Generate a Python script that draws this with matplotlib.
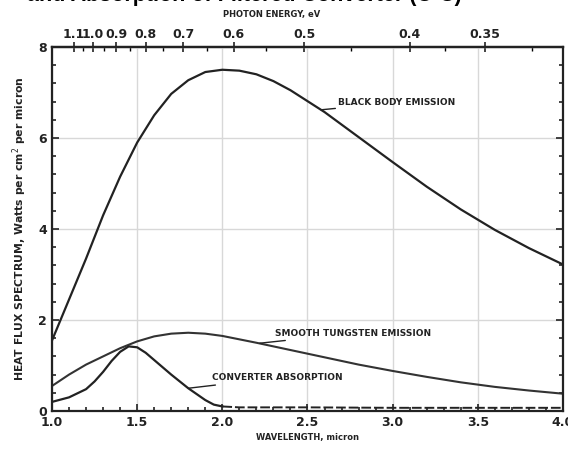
import numpy as np
import matplotlib.pyplot as plt
from matplotlib.ticker import MultipleLocator, FixedLocator

# wavelength grid (micron) and curves
bb_wl = [1.0, 1.1, 1.2, 1.3, 1.4, 1.5, 1.6, 1.7, 1.8, 1.9, 2.0, 2.1, 2.2, 2.3, 2.4,
         2.6, 2.8, 3.0, 3.2, 3.4, 3.6, 3.8, 4.0]
bb_val = [1.55, 2.45, 3.35, 4.3, 5.15, 5.9, 6.5, 6.97, 7.27, 7.45, 7.5, 7.48, 7.4, 7.25, 7.05,
          6.57, 6.02, 5.47, 4.93, 4.43, 3.98, 3.58, 3.22]

tu_wl = [1.0, 1.1, 1.2, 1.3, 1.4, 1.5, 1.6, 1.7, 1.8, 1.9, 2.0, 2.2, 2.4, 2.6,
         2.8, 3.0, 3.2, 3.4, 3.6, 3.8, 4.0]
tu_val = [0.55, 0.8, 1.02, 1.2, 1.38, 1.53, 1.64, 1.7, 1.72, 1.7, 1.65, 1.5, 1.34, 1.18,
          1.02, 0.88, 0.75, 0.63, 0.53, 0.45, 0.38]

cv_wl = [1.0, 1.1, 1.2, 1.25, 1.3, 1.35, 1.4, 1.45, 1.5, 1.55, 1.6, 1.7, 1.8, 1.9,
         1.95, 2.0, 2.1, 2.5, 3.0, 3.5, 4.0]
cv_val = [0.2, 0.3, 0.48, 0.65, 0.86, 1.1, 1.3, 1.42, 1.4, 1.28, 1.12, 0.8, 0.5, 0.24,
          0.14, 0.1, 0.08, 0.08, 0.07, 0.07, 0.07]

ev_ticks = [1.1, 1.0, 0.9, 0.8, 0.7, 0.6, 0.5, 0.4, 0.35]
ev_minor = [1.05, 0.95, 0.85, 0.75, 0.65, 0.55, 0.45, 0.375, 0.325]

ink = '#222222'

fig = plt.figure(figsize=(5.68, 4.54), dpi=100)
ax = fig.add_axes([52/568, 1 - 411/454, 511/568, 364/454])

ax.plot(bb_wl, bb_val, color=ink, lw=1.6)
ax.plot(tu_wl, tu_val, color='#333333', lw=1.5)
ax.plot(cv_wl[:16], cv_val[:16], color=ink, lw=1.6)
ax.plot(cv_wl[15:], cv_val[15:], color=ink, lw=1.4, ls=(0, (5, 1.5)))

ax.set_xlim(1.0, 4.0)
ax.set_ylim(0, 8)
ax.xaxis.set_minor_locator(MultipleLocator(0.1))
ax.yaxis.set_minor_locator(MultipleLocator(0.4))
ax.set_xticks([1.0, 1.5, 2.0, 2.5, 3.0, 3.5, 4.0])
ax.set_xticklabels(['1.0', '1.5', '2.0', '2.5', '3.0', '3.5', '4.0'])
ax.set_yticks([0, 2, 4, 6, 8])
ax.grid(True, which='major', color='#d8d8d8', lw=1.0)
ax.tick_params(which='both', direction='in', right=True, colors=ink, labelsize=9, width=1.2)
ax.tick_params(which='major', length=5)
ax.tick_params(which='minor', length=3)
for lab in ax.get_xticklabels() + ax.get_yticklabels():
    lab.set_fontweight('bold')
for s in ax.spines.values():
    s.set_linewidth(1.6)
    s.set_color(ink)

# photon energy axis on top
f = lambda x: 1.24 / np.clip(np.asarray(x, dtype=float), 1e-6, None)
top = ax.secondary_xaxis('top', functions=(f, f))
top.xaxis.set_major_locator(FixedLocator(ev_ticks))
top.xaxis.set_minor_locator(FixedLocator(ev_minor))
top.set_xticklabels([str(v) for v in ev_ticks])
top.tick_params(which='major', direction='inout', length=7, width=1.2, labelsize=9, colors=ink, pad=1)
top.tick_params(which='minor', direction='in', length=3, width=1.0)
for lab in top.get_xticklabels():
    lab.set_fontweight('bold')
top.spines['top'].set_linewidth(1.6)

ax.set_xlabel('WAVELENGTH, micron', fontsize=6, fontweight='bold', color=ink, labelpad=3)
ax.set_ylabel('HEAT FLUX SPECTRUM, Watts per cm$^2$ per micron', fontsize=7.8,
              fontweight='bold', color=ink, labelpad=7)
fig.text(272/568, 1 - 15/454, 'PHOTON ENERGY, eV', fontsize=6, fontweight='bold',
         color=ink, ha='center', va='center')
# title sits mostly above the top edge, as in the cropped scan
fig.text(27/568, 1 - 0.5/454, 'and Absorption of Filtered Converter (C-C)', fontsize=15.5,
         family='Liberation Sans', fontweight='bold', color='black', ha='left', va='baseline')

# curve labels with leader lines
ax.annotate('BLACK BODY EMISSION', xy=(2.58, 6.62), xytext=(2.68, 6.78),
            fontsize=6.5, fontweight='bold', color=ink, va='center',
            arrowprops=dict(arrowstyle='-', color=ink, lw=1.0, shrinkA=0, shrinkB=0))
ax.annotate('SMOOTH TUNGSTEN EMISSION', xy=(2.22, 1.49), xytext=(2.31, 1.71),
            fontsize=6.5, fontweight='bold', color=ink, va='center',
            arrowprops=dict(arrowstyle='-', color=ink, lw=1.0, shrinkA=0, shrinkB=0))
ax.annotate('CONVERTER ABSORPTION', xy=(1.8, 0.5), xytext=(1.94, 0.73),
            fontsize=6.5, fontweight='bold', color=ink, va='center',
            arrowprops=dict(arrowstyle='-', color=ink, lw=1.0, shrinkA=0, shrinkB=0))

fig.savefig('out.png', dpi=100)
